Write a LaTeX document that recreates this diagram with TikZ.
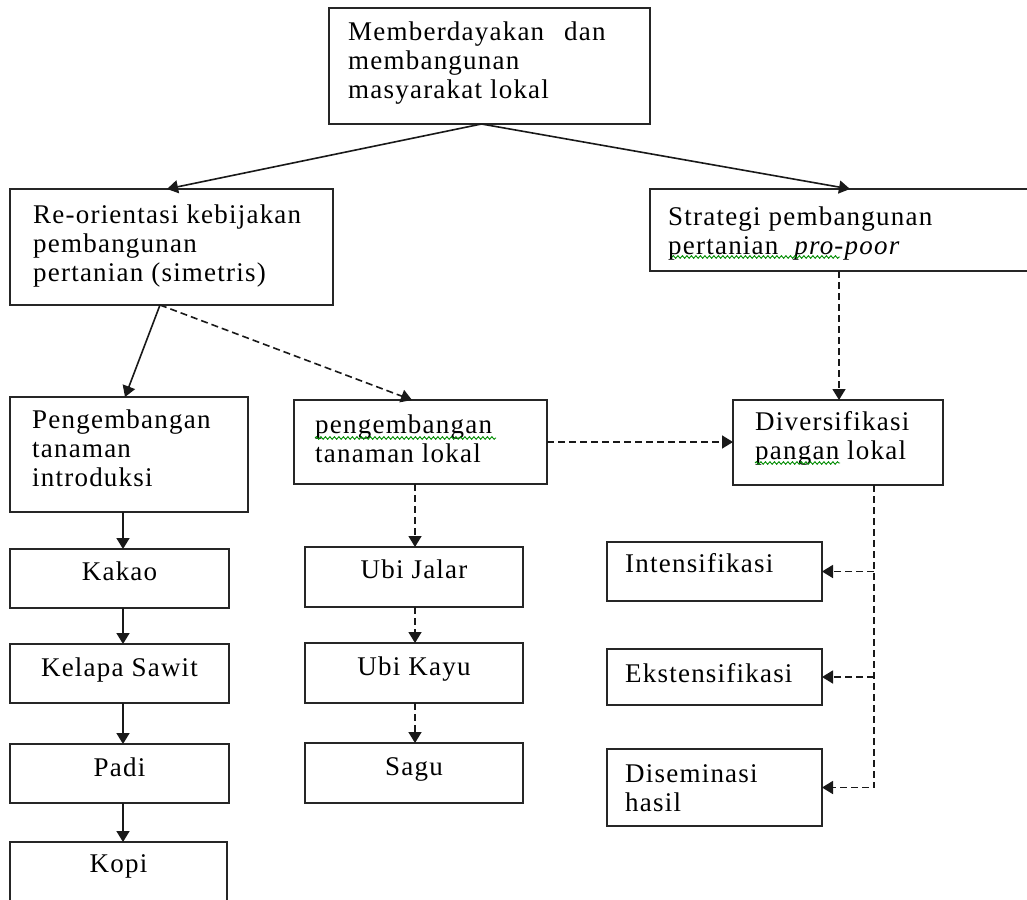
\documentclass[tikz,border=0pt]{standalone}
\usepackage{fontspec}
\setmainfont{Liberation Serif}[LetterSpace=4.5]
\usetikzlibrary{arrows.meta,calc,decorations.pathmorphing}
\newcommand\mybox[5]{\node[box, minimum width={#4pt-#2pt}, minimum height={#5pt-#3pt}] (#1) at (#2,-#3) {};}
\begin{document}
\begin{tikzpicture}[x=1pt,y=1pt,
  box/.style={draw=black!85, line width=1.8pt, inner sep=0pt, outer sep=0pt, anchor=north west},
  txt/.style={inner sep=0pt, align=left, font=\fontsize{27}{29}\selectfont},
  con/.style={line width=1.6pt, draw=black!90, -{Triangle[length=11pt,width=13pt]}},
  dsh/.style={con, dash pattern=on 7pt off 4pt},
  squig/.style={draw=green!55!black, line width=0.9pt, decorate, decoration={snake, amplitude=1.3pt, segment length=4.5pt}}]
\useasboundingbox (0,0) rectangle (1027,-899);
\clip (0,0) rectangle (1027,-899);
\fill[white] (0,0) rectangle (1027,-899);

% boxes
\mybox{top}{329}{8}{650}{124}
\mybox{reo}{10}{189}{333}{305}
\mybox{strat}{650}{189}{1040}{271}
\mybox{intro}{10}{397}{248}{512}
\mybox{lokal}{294}{400}{547}{484}
\mybox{div}{733}{400}{943}{485}
\mybox{kakao}{10}{549}{229}{608}
\mybox{kelapa}{10}{644}{229}{703}
\mybox{padi}{10}{744}{229}{803}
\mybox{kopi}{10}{842}{227}{930}
\mybox{ubij}{305}{547}{523}{607}
\mybox{ubik}{305}{643}{523}{703}
\mybox{sagu}{305}{743}{523}{803}
\mybox{inten}{607}{542}{822}{601}
\mybox{eksten}{607}{649}{822}{705}
\mybox{disem}{607}{749}{822}{826}

% texts
\node[txt, anchor=north west] (top-t) at (348,-19.7) {\strut Memberdayakan\hspace{12pt} dan\\membangunan\\masyarakat lokal};
\node[txt, anchor=north west] (reo-t) at (33,-202.7) {\strut Re-orientasi kebijakan\\pembangunan\\pertanian (simetris)};
\node[txt, anchor=north west] (strat-t) at (668,-204.7) {\strut Strategi pembangunan\\pertanian\hspace{16pt}\textit{pro-poor}};
\node[txt, anchor=north west] (intro-t) at (32,-407.7) {\strut Pengembangan\\tanaman\\introduksi};
\node[txt, anchor=north west] (lokal-t) at (315,-412.7) {\strut pengembangan\\tanaman lokal};
\node[txt, anchor=north west] (div-t) at (755,-409.7) {\strut Diversifikasi\\pangan lokal};
\node[txt, anchor=north] (kakao-t) at (119.5,-559.7) {\strut Kakao};
\node[txt, anchor=north] (kelapa-t) at (119.5,-655.7) {\strut Kelapa Sawit};
\node[txt, anchor=north] (padi-t) at (119.5,-755.7) {\strut Padi};
\node[txt, anchor=north] (kopi-t) at (118.5,-851.7) {\strut Kopi};
\node[txt, anchor=north] (ubij-t) at (414,-557.7) {\strut Ubi Jalar};
\node[txt, anchor=north] (ubik-t) at (414,-654.7) {\strut Ubi Kayu};
\node[txt, anchor=north] (sagu-t) at (414,-754.7) {\strut Sagu};
\node[txt, anchor=north west] (inten-t) at (625,-551.7) {\strut Intensifikasi};
\node[txt, anchor=north west] (eksten-t) at (625,-661.7) {\strut Ekstensifikasi};
\node[txt, anchor=north west] (disem-t) at (625,-761.7) {\strut Diseminasi\\hasil};

% spell-check squiggles
\draw[squig] (672,-257) -- (840,-257);
\draw[squig] (315,-438) -- (496,-438);
\draw[squig] (755,-463) -- (840,-463);

% connectors
\draw[con] ([xshift=-8pt]top.south) -- ([xshift=157pt]reo.north west);
\draw[con] ([xshift=-8pt]top.south) -- ([xshift=200pt]strat.north west);
\draw[con] ([xshift=150pt]reo.south west) -- ([xshift=115pt]intro.north west);
\draw[dsh] ([xshift=150pt]reo.south west) -- ([xshift=118pt]lokal.north west);
\coordinate (dtop) at ([xshift=106pt]div.north west);
\draw[dsh] (dtop |- strat.south) -- (dtop);
\draw[dsh] (lokal.east) -- (lokal.east -| div.west);

\coordinate (lc) at (123,0);
\draw[con] (intro.south -| lc) -- (kakao.north -| lc);
\draw[con] (kakao.south -| lc) -- (kelapa.north -| lc);
\draw[con] (kelapa.south -| lc) -- (padi.north -| lc);
\draw[con] (padi.south -| lc) -- (kopi.north -| lc);

\coordinate (mc) at (415,0);
\draw[dsh] (lokal.south -| mc) -- (ubij.north -| mc);
\draw[dsh] (ubij.south -| mc) -- (ubik.north -| mc);
\draw[dsh] (ubik.south -| mc) -- (sagu.north -| mc);

\coordinate (rc) at ([xshift=141pt]div.south west);
\draw[dsh] (rc) |- (disem.east);
\draw[dsh] (rc |- inten.east) -- (inten.east);
\draw[dsh] (rc |- eksten.east) -- (eksten.east);
\end{tikzpicture}
\end{document}
